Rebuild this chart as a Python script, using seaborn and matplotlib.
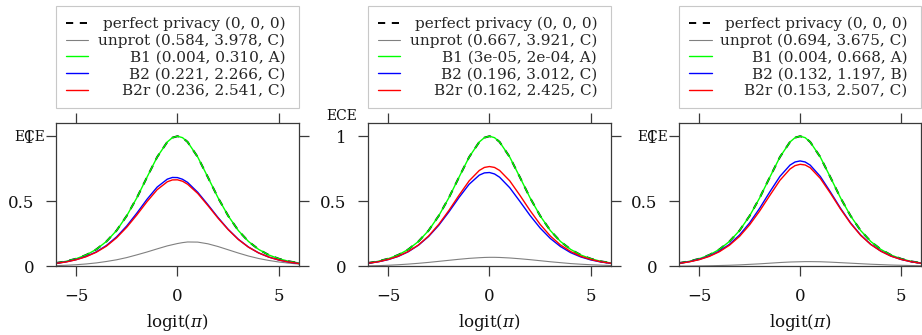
import matplotlib
matplotlib.use("Agg")
import matplotlib.pyplot as plt
import seaborn as sns
import pandas as pd

# ---------------- data ----------------
logit_pi = [-6, -5.5, -5, -4.5, -4, -3.5, -3, -2.5, -2, -1.5, -1, -0.5, -0.25, 0,
            0.25, 0.5, 1, 1.5, 2, 2.5, 3, 3.5, 4, 4.5, 5, 5.5, 6]

perfect = [0.025, 0.038, 0.058, 0.087, 0.130, 0.191, 0.275, 0.388, 0.527, 0.685, 0.840, 0.956, 0.989, 1.000,
           0.989, 0.956, 0.840, 0.685, 0.527, 0.388, 0.275, 0.191, 0.130, 0.087, 0.058, 0.038, 0.025]

# panel 1
unprot_1 = [0.005, 0.008, 0.012, 0.018, 0.026, 0.037, 0.050, 0.067, 0.088, 0.110, 0.134, 0.157, 0.166, 0.175,
            0.182, 0.187, 0.186, 0.173, 0.152, 0.127, 0.102, 0.079, 0.060, 0.045, 0.033, 0.024, 0.017]
b1_1 = [0.025, 0.038, 0.058, 0.087, 0.130, 0.191, 0.275, 0.388, 0.527, 0.685, 0.840, 0.956, 0.989, 1.000,
        0.989, 0.956, 0.840, 0.685, 0.527, 0.388, 0.275, 0.191, 0.130, 0.087, 0.058, 0.038, 0.025]
b2_1 = [0.022, 0.034, 0.051, 0.076, 0.111, 0.160, 0.226, 0.310, 0.409, 0.515, 0.609, 0.670, 0.683, 0.682,
        0.669, 0.645, 0.569, 0.474, 0.375, 0.284, 0.208, 0.148, 0.103, 0.071, 0.048, 0.032, 0.021]
b2r_1 = [0.022, 0.033, 0.050, 0.074, 0.108, 0.155, 0.219, 0.300, 0.395, 0.497, 0.589, 0.650, 0.664, 0.665,
         0.654, 0.631, 0.560, 0.467, 0.370, 0.282, 0.206, 0.147, 0.103, 0.071, 0.048, 0.032, 0.021]

# panel 2
unprot_2 = [0.003, 0.005, 0.008, 0.012, 0.017, 0.023, 0.030, 0.038, 0.046, 0.054, 0.061, 0.066, 0.068, 0.069,
            0.069, 0.068, 0.064, 0.058, 0.051, 0.043, 0.035, 0.028, 0.021, 0.016, 0.012, 0.009, 0.006]
b1_2 = [0.025, 0.038, 0.058, 0.087, 0.130, 0.191, 0.275, 0.388, 0.527, 0.685, 0.840, 0.956, 0.989, 1.000,
        0.989, 0.956, 0.840, 0.685, 0.527, 0.388, 0.275, 0.191, 0.130, 0.087, 0.058, 0.038, 0.025]
b2_2 = [0.023, 0.034, 0.051, 0.076, 0.112, 0.162, 0.229, 0.315, 0.418, 0.529, 0.631, 0.701, 0.718, 0.721,
        0.710, 0.685, 0.604, 0.499, 0.391, 0.294, 0.214, 0.152, 0.105, 0.072, 0.049, 0.033, 0.022]
b2r_2 = [0.023, 0.034, 0.052, 0.077, 0.114, 0.164, 0.233, 0.322, 0.429, 0.546, 0.657, 0.737, 0.760, 0.767,
         0.760, 0.737, 0.657, 0.546, 0.429, 0.322, 0.233, 0.164, 0.114, 0.077, 0.052, 0.034, 0.023]

# panel 3
unprot_3 = [0.001, 0.002, 0.003, 0.004, 0.006, 0.008, 0.011, 0.015, 0.019, 0.024, 0.029, 0.033, 0.034, 0.035,
            0.036, 0.036, 0.035, 0.032, 0.028, 0.024, 0.020, 0.016, 0.013, 0.010, 0.008, 0.006, 0.004]
b1_3 = [0.025, 0.038, 0.058, 0.087, 0.130, 0.191, 0.275, 0.388, 0.527, 0.685, 0.840, 0.956, 0.989, 1.000,
        0.989, 0.956, 0.840, 0.685, 0.527, 0.388, 0.275, 0.191, 0.130, 0.087, 0.058, 0.038, 0.025]
b2_3 = [0.023, 0.035, 0.053, 0.079, 0.117, 0.169, 0.241, 0.334, 0.447, 0.572, 0.691, 0.778, 0.802, 0.810,
        0.802, 0.778, 0.691, 0.572, 0.447, 0.334, 0.241, 0.169, 0.117, 0.079, 0.053, 0.035, 0.023]
b2r_3 = [0.022, 0.034, 0.051, 0.076, 0.112, 0.162, 0.230, 0.319, 0.426, 0.545, 0.661, 0.748, 0.774, 0.784,
         0.779, 0.758, 0.676, 0.562, 0.441, 0.330, 0.238, 0.168, 0.116, 0.078, 0.053, 0.035, 0.023]

series_names = ["perfect privacy", "unprot", "B1", "B2", "B2r"]
metrics_1 = ["(0, 0, 0)", "(0.584, 3.978, C)", "(0.004, 0.310, A)", "(0.221, 2.266, C)", "(0.236, 2.541, C)"]
metrics_2 = ["(0, 0, 0)", "(0.667, 3.921, C)", "(3e-05, 2e-04, A)", "(0.196, 3.012, C)", "(0.162, 2.425, C)"]
metrics_3 = ["(0, 0, 0)", "(0.694, 3.675, C)", "(0.004, 0.668, A)", "(0.132, 1.197, B)", "(0.153, 2.507, C)"]

x_ticks = [-5, 0, 5]
x_tick_labels = ["\u22125", "0", "5"]
y_ticks = [0, 0.5, 1]
y_tick_labels = ["0", "0.5", "1"]

# ---------------- style ----------------
sns.set_theme(style="ticks")
plt.rcParams["font.family"] = ["DejaVu Serif"]
plt.rcParams["mathtext.fontset"] = "dejavuserif"

SPINE = "#3a3a3a"
TXT = "#111111"
styles = {
    "perfect privacy": dict(color="black", lw=1.4, ls=(0, (3.7, 3.4))),
    "unprot": dict(color="#808080", lw=0.8, ls="-"),
    "B1": dict(color="#00ff00", lw=1.0, ls="-"),
    "B2": dict(color="#0000ff", lw=1.0, ls="-"),
    "B2r": dict(color="#ff0000", lw=1.0, ls="-"),
}

panels = [
    dict(series=[perfect, unprot_1, b1_1, b2_1, b2r_1], metrics=metrics_1, left=55.7, ece_y=0.900),
    dict(series=[perfect, unprot_2, b1_2, b2_2, b2r_2], metrics=metrics_2, left=367.7, ece_y=1.047),
    dict(series=[perfect, unprot_3, b1_3, b2_3, b2r_3], metrics=metrics_3, left=679.0, ece_y=0.900),
]

W, H = 922, 335
fig = plt.figure(figsize=(W / 100, H / 100), dpi=100)

ax_w = 243.5
ax_top, ax_bot = 122.7, 266.3
legends = []
for i, p in enumerate(panels):
    width = ax_w if i < 2 else min(ax_w, W - 0.8 - p["left"])
    ax = fig.add_axes([p["left"] / W, (H - ax_bot) / H, width / W, (ax_bot - ax_top) / H])
    for name, vals, met in zip(series_names, p["series"], p["metrics"]):
        df = pd.DataFrame({"logit": logit_pi, "ece": vals})
        st = styles[name]
        sns.lineplot(data=df, x="logit", y="ece", ax=ax, color=st["color"], lw=st["lw"],
                     linestyle=st["ls"], label=f"{name} {met}", estimator=None, errorbar=None,
                     sort=False)
    ax.set_xlim(-6, 6)
    ax.set_ylim(0, 1.104)
    ax.set_xticks(x_ticks)
    ax.set_xticklabels(x_tick_labels)
    ax.set_yticks(y_ticks)
    ax.set_yticklabels(y_tick_labels)
    ax.tick_params(axis="both", which="major", direction="out", length=7, width=0.9,
                   color=SPINE, labelsize=12, pad=8.5, labelcolor=TXT,
                   top=True, right=True, labeltop=False, labelright=False)
    for sp in ax.spines.values():
        sp.set_visible(True)
        sp.set_color(SPINE)
        sp.set_linewidth(0.9)
    ax.set_xlabel(r"logit$(\pi)$", fontsize=12, labelpad=5.5, color=TXT)
    ax.set_ylabel("ECE", rotation=0, fontsize=10, ha="right", va="center", color=TXT)
    ax.yaxis.set_label_coords(-10.5 / width, p["ece_y"])
    leg = ax.legend(loc="lower left", bbox_to_anchor=(0, 1.10, 1, 0.2), mode="expand",
                    borderaxespad=0, fontsize=11, frameon=True, fancybox=False,
                    handlelength=1.45, handletextpad=0.55, borderpad=0.68, labelspacing=0.17,
                    edgecolor="#c8c8c8", framealpha=1.0)
    leg.get_frame().set_linewidth(0.8)
    legends.append(leg)

# right-align legend texts (as in the reference)
fig.canvas.draw()
renderer = fig.canvas.get_renderer()
for leg in legends:
    frame = leg.get_frame().get_window_extent(renderer)
    target_right = frame.x1 - 14
    for t in leg.get_texts():
        ext = t.get_window_extent(renderer)
        t.set_position((target_right - ext.x1, 0))

fig.savefig("out.png", dpi=100)
